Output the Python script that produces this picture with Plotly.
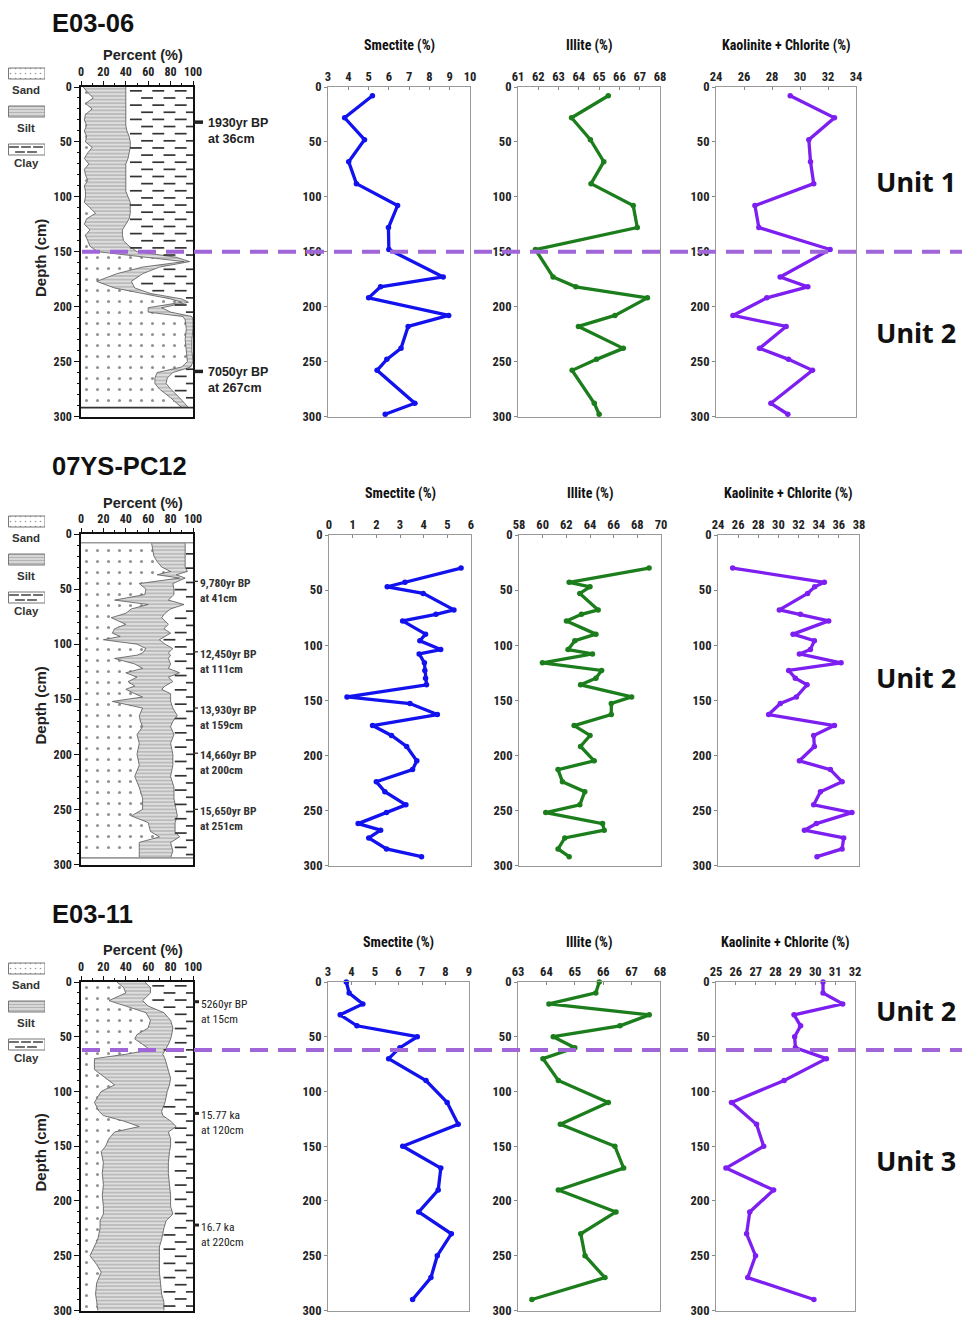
import numpy as np
import plotly.graph_objects as go

# page body has an 8px margin: figure is placed so that reference pixel (x, y)
# lands on figure pixel (x - 8, y - 8)
OFF = 8
W, H = 962, 1312

# ===================== DATA =====================
core_names = ["E03-06", "07YS-PC12", "E03-11"]

# ---- grain size (Percent %) : depth (cm), sand %, silt % (clay = rest) ----
gs_depth_e0306 = [0, 5, 10, 15, 20, 25, 30, 35, 40, 45, 50, 55, 60, 65, 70, 75, 80, 85, 90, 95,
                  100, 105, 110, 115, 120, 125, 130, 135, 140, 145, 150, 155, 159, 164, 170, 177,
                  183, 188, 193, 196, 201, 205, 209, 212, 220, 230, 240, 250, 255, 260, 265, 270,
                  275, 283, 292]
gs_sand_e0306 = [2, 6, 11, 4, 10, 4, 3, 5, 3, 5, 4, 10, 6, 3, 7, 3, 4, 6, 3, 4,
                 4, 3, 8, 13, 5, 3, 8, 4, 6, 8, 15, 60, 92, 55, 32, 14,
                 30, 55, 80, 90, 60, 60, 91, 93, 94, 93, 94, 95, 90, 68, 66, 66,
                 70, 80, 90]
gs_silt_e0306 = [38, 34, 29, 36, 30, 36, 37, 35, 38, 38, 40, 34, 37, 39, 33, 37, 36, 34, 37, 36,
                 38, 41, 36, 31, 38, 37, 29, 33, 32, 35, 35, 25, 5, 15, 23, 31,
                 18, 7, 10, 6, 12, 20, 8, 7, 6, 6, 5, 5, 8, 14, 11, 10,
                 10, 8, 6]

gs_depth_pc12 = [8, 15, 20, 25, 30, 34, 37, 40, 45, 50, 55, 60, 64, 68, 72, 76, 82, 86, 90, 93,
                 96, 100, 104, 108, 110, 113, 118, 122, 126, 130, 134, 138, 141, 145, 148, 152,
                 158, 165, 170, 175, 182, 190, 200, 210, 220, 230, 240, 250, 256, 262, 270, 275,
                 280, 288, 294]
gs_sand_pc12 = [63, 64, 65, 68, 72, 80, 68, 88, 52, 58, 57, 30, 60, 45, 40, 27, 40, 30, 28, 35,
                20, 50, 58, 55, 50, 30, 48, 55, 40, 50, 42, 48, 40, 48, 55, 28,
                55, 52, 53, 55, 50, 52, 50, 52, 48, 52, 55, 55, 45, 60, 62, 70,
                52, 52, 52]
gs_silt_pc12 = [30, 29, 28, 25, 21, 15, 17, 5, 30, 25, 26, 48, 32, 35, 35, 45, 38, 44, 52, 40,
                50, 25, 24, 23, 30, 48, 32, 23, 48, 28, 40, 27, 32, 32, 25, 52,
                27, 34, 29, 25, 33, 28, 32, 30, 32, 31, 28, 30, 41, 24, 22, 18,
                28, 30, 28]

gs_depth_e0311 = [0, 5, 10, 17, 22, 28, 35, 42, 48, 52, 57, 62, 66, 70, 80, 88, 94, 100, 110, 118,
                  122, 127, 132, 137, 143, 150, 155, 165, 175, 185, 195, 205, 212, 218, 225, 235,
                  242, 250, 258, 265, 275, 285, 292, 300]
gs_sand_e0311 = [32, 38, 40, 25, 40, 58, 62, 60, 50, 48, 55, 62, 40, 12, 12, 22, 30, 18, 12, 16,
                 20, 38, 52, 30, 25, 22, 18, 20, 19, 20, 19, 20, 20, 17, 17, 15,
                 12, 8, 14, 18, 14, 13, 14, 15]
gs_silt_e0311 = [25, 24, 22, 30, 20, 16, 18, 22, 31, 32, 23, 13, 33, 63, 66, 58, 49, 59, 63, 56,
                 53, 42, 33, 48, 55, 58, 61, 58, 59, 59, 61, 60, 62, 59, 57, 57,
                 58, 62, 56, 52, 57, 59, 60, 59]

# ---- clay minerals (%) ----
min_depth_e0306 = [8, 28, 48, 68, 88, 108, 128, 148, 173, 182, 192, 208, 218, 238, 248, 258, 288, 298]
smectite_e0306 = [5.19, 3.82, 4.80, 4.02, 4.40, 6.43, 5.98, 6.00, 8.68, 5.59, 5.00, 8.95, 6.95, 6.60,
                  5.90, 5.42, 7.28, 5.82]
illite_e0306 = [65.45, 63.64, 64.57, 65.23, 64.60, 66.68, 66.88, 61.86, 62.73, 63.85, 67.38, 65.78,
                63.98, 66.19, 64.87, 63.67, 64.76, 65.00]
kaolchl_e0306 = [29.30, 32.46, 30.63, 30.75, 30.98, 26.78, 27.06, 32.15, 28.58, 30.56, 27.63, 25.21,
                 29.01, 27.11, 29.18, 30.89, 27.92, 29.13]

min_depth_pc12 = [30, 43, 47, 53, 68, 72, 78, 90, 96, 104, 108, 116, 123, 130, 136, 147, 153, 163,
                  173, 182, 192, 205, 213, 224, 233, 245, 252, 262, 268, 275, 285, 292]
smectite_pc12 = [5.58, 3.21, 2.46, 3.98, 5.28, 4.52, 3.11, 4.08, 3.84, 4.72, 3.81, 4.03, 4.05, 4.08,
                 4.12, 0.76, 3.42, 4.58, 1.84, 2.64, 3.28, 3.71, 3.53, 2.00, 2.36, 3.25, 2.43, 1.23,
                 2.18, 1.68, 2.43, 3.91]
illite_pc12 = [68.99, 62.24, 64.00, 63.14, 64.69, 63.28, 62.01, 64.50, 62.72, 62.15, 64.21, 59.98,
               64.98, 64.50, 63.20, 67.52, 65.80, 65.80, 62.66, 64.00, 63.20, 64.35, 61.30, 61.67,
               63.56, 63.14, 60.26, 65.06, 65.20, 61.87, 61.30, 62.24]
kaolchl_pc12 = [25.46, 34.56, 33.60, 32.90, 30.09, 32.18, 34.99, 31.45, 33.57, 33.17, 32.08, 36.22,
                31.02, 31.68, 32.84, 31.78, 30.19, 29.03, 35.56, 33.50, 33.57, 32.08, 35.16, 36.32,
                34.17, 33.50, 37.30, 33.77, 32.58, 36.48, 36.32, 33.83]

min_depth_e0311 = [0, 10, 20, 30, 40, 50, 60, 70, 90, 110, 130, 150, 170, 190, 210, 230, 250, 270, 290]
smectite_e0311 = [3.78, 3.90, 4.48, 3.52, 4.23, 6.80, 6.06, 5.58, 7.17, 8.07, 8.54, 6.18, 7.80, 7.69,
                  6.86, 8.25, 7.65, 7.38, 6.60]
illite_e0311 = [65.86, 65.74, 64.09, 67.62, 66.59, 64.24, 65.00, 63.88, 64.42, 66.18, 64.49, 66.41,
                66.72, 64.42, 66.45, 65.21, 65.36, 66.06, 63.49]
kaolchl_e0311 = [30.39, 30.39, 31.38, 28.93, 29.26, 28.96, 29.00, 30.56, 28.43, 25.78, 27.04, 27.40,
                 25.50, 27.90, 26.70, 26.54, 26.99, 26.60, 29.93]

mineral_names = ["Smectite (%)", "Illite (%)", "Kaolinite + Chlorite (%)"]
mineral_colors = ["#1212ee", "#1b7d1b", "#7c1ff0"]
legend_labels = ["Sand", "Silt", "Clay"]

# age control points: label, plotted depth
ages_e0306 = ["1930yr BP<br>at 36cm", "7050yr BP<br>at 267cm"]
age_depth_e0306 = [32, 259]
ages_pc12 = ["9,780yr BP<br>at 41cm", "12,450yr BP<br>at 111cm", "13,930yr BP<br>at 159cm",
             "14,660yr BP<br>at 200cm", "15,650yr BP<br>at 251cm"]
age_depth_pc12 = [43, 107, 158, 199, 250]
ages_e0311 = ["5260yr BP<br>at 15cm", "15.77 ka<br>at 120cm", "16.7 ka<br>at 220cm"]
age_depth_e0311 = [18, 120, 222]

# unit boundaries / labels
unit_boundary = [150, None, 62]
unit_labels = [["Unit 1", "Unit 2"], ["Unit 2"], ["Unit 2", "Unit 3"]]

# ===================== STYLE / LAYOUT =====================
NARROW = "Roboto Condensed, Open Sans Condensed, DejaVu Sans Condensed, sans-serif"
BOLD = "Noto Sans, Open Sans, Arial, sans-serif"
ARIAL = "Liberation Sans, Arial, sans-serif"

rows = [
    dict(off=0, gs=(gs_depth_e0306, gs_sand_e0306, gs_silt_e0306),
         mins=(min_depth_e0306, smectite_e0306, illite_e0306, kaolchl_e0306),
         ranges=[[3, 10], [61, 68], [24, 34]], dticks=[1, 1, 2],
         pct_y=(87, 417), min_y=(87, 417), min_x=[(328, 470), (518, 660), (716, 856)],
         core=(0, 292), ages=(ages_e0306, age_depth_e0306),
         unit_y=[182, 332], title_y=23, mt_y=45, pt_y=55, age_style="big"),
    dict(off=448, gs=(gs_depth_pc12, gs_sand_pc12, gs_silt_pc12),
         mins=(min_depth_pc12, smectite_pc12, illite_pc12, kaolchl_pc12),
         ranges=[[0, 6], [58, 70], [24, 38]], dticks=[1, 2, 2],
         pct_y=(534, 865), min_y=(535, 866), min_x=[(329, 471), (519, 661), (718, 859)],
         core=(8, 294), ages=(ages_pc12, age_depth_pc12),
         unit_y=[677], title_y=466, mt_y=494, pt_y=503, age_style="thin"),
    dict(off=895, gs=(gs_depth_e0311, gs_sand_e0311, gs_silt_e0311),
         mins=(min_depth_e0311, smectite_e0311, illite_e0311, kaolchl_e0311),
         ranges=[[3, 9], [63, 68], [25, 32]], dticks=[1, 1, 1],
         pct_y=(982, 1311), min_y=(982, 1311), min_x=[(328, 469), (518, 660), (716, 855)],
         core=(0, 300), ages=(ages_e0311, age_depth_e0311),
         unit_y=[1010, 1160], title_y=914, mt_y=942, pt_y=950, age_style="small"),
]


def PX(x):
    return (x - OFF) / W


def PY(y):
    return 1 - (y - OFF) / H


fig = go.Figure()
layout_axes = {}
annotations = []
shapes = []
axis_counter = [0]


def new_axes(xpx, ypx, xr, yr, xkw, ykw):
    axis_counter[0] += 1
    n = axis_counter[0]
    sx = "" if n == 1 else str(n)
    layout_axes["xaxis" + sx] = dict(domain=[max(PX(xpx[0]), 0), PX(xpx[1])], range=xr,
                                     anchor="y" + sx, automargin=False, **xkw)
    layout_axes["yaxis" + sx] = dict(domain=[PY(ypx[1]), PY(ypx[0])], range=yr,
                                     anchor="x" + sx, automargin=False, **ykw)
    return "x" + sx, "y" + sx


def ann(xpx, ypx, text, size, family=BOLD, xanchor="center", yanchor="middle",
        color="#111", angle=0):
    annotations.append(dict(x=PX(xpx), y=PY(ypx), xref="paper", yref="paper",
                            text=text, showarrow=False, xanchor=xanchor, yanchor=yanchor,
                            textangle=angle, borderpad=0,
                            font=dict(family=family, size=size, color=color)))


tickfont = dict(family=NARROW, size=12.5, color="#222", weight="bold")
pct_tickfont = dict(family=NARROW, size=12, color="#222", weight="bold")
depth_ticks = [0, 50, 100, 150, 200, 250, 300]

for ri, r in enumerate(rows):
    off = r["off"]
    depth, sand, silt = r["gs"]
    depth = np.array(depth, float)
    sand = np.array(sand, float)
    cum = sand + np.array(silt, float)

    # ---------------- grain size panel ----------------
    xa, ya = new_axes(
        (81, 193), r["pct_y"], [0, 100], [300.5, 0],
        dict(side="top", tickvals=[0, 20, 40, 60, 80, 100], ticks="outside", ticklen=4,
             tickcolor="#111", tickwidth=1.2, minor=dict(dtick=10, ticks="outside", ticklen=2.5,
                                                         tickcolor="#111"),
             showline=True, linecolor="#111", linewidth=1.6, mirror=True, showgrid=False,
             zeroline=False, tickfont=pct_tickfont),
        dict(tickvals=depth_ticks, ticks="outside", ticklen=5,
             tickcolor="#111", tickwidth=1.2, minor=dict(dtick=10, ticks="outside", ticklen=2.5,
                                                         tickcolor="#111"),
             showline=True, linecolor="#111", linewidth=1.6, mirror=True, showgrid=False,
             zeroline=False, tickfont=pct_tickfont))

    fig.add_trace(go.Scatter(
        x=sand, y=depth, mode="lines", line=dict(color="#555", width=0.8),
        fill="tozerox", fillpattern=dict(shape=".", size=11, solidity=0.06,
                                         fgcolor="#222", bgcolor="white"),
        xaxis=xa, yaxis=ya, hoverinfo="skip", showlegend=False))
    fig.add_trace(go.Scatter(
        x=cum, y=depth, mode="lines", line=dict(color="#555", width=0.8),
        fill="tonextx", fillpattern=dict(shape="-", size=3.6, solidity=0.42,
                                         fgcolor="#8a8a8a", bgcolor="#dedede"),
        xaxis=xa, yaxis=ya, hoverinfo="skip", showlegend=False))

    # clay dash symbols placed in the clay field (right of sand+silt)
    dx, dy = [], []
    d = r["core"][0] + 3.5
    k = 0
    while d < r["core"][1] - 1:
        c = np.interp(d, depth, cum)
        start = 9 if k % 2 == 0 else 19
        for xc in range(start, 101, 20):
            if xc - 3.6 > c:
                dx.append(xc)
                dy.append(d)
        k += 1
        d += 6.5
    fig.add_trace(go.Scatter(
        x=dx, y=dy, mode="markers",
        marker=dict(symbol="line-ew", size=8.5, line=dict(color="#333", width=1.7)),
        xaxis=xa, yaxis=ya, hoverinfo="skip", showlegend=False, cliponaxis=True))

    # core top / bottom lines
    for cd in r["core"]:
        if 0 < cd < 300:
            shapes.append(dict(type="line", xref=xa, yref=ya, x0=0, x1=100, y0=cd, y1=cd,
                               line=dict(color="#333" if off == 0 else "#999", width=1.6)))

    # age control markers
    labels, adepths = r["ages"]
    for lab, ad in zip(labels, adepths):
        if r["age_style"] == "big":
            shapes.append(dict(type="line", xref="paper", yref=ya, x0=PX(193), x1=PX(203),
                               y0=ad, y1=ad, line=dict(color="#222", width=3.5)))
            annotations.append(dict(x=PX(206), y=ad, xref="paper", yref=ya, text="<b>" + lab + "</b>",
                                    showarrow=False, xanchor="left", yanchor="top", yshift=8,
                                    align="left",
                                    font=dict(family=ARIAL, size=12.5, color="#222")))
        elif r["age_style"] == "thin":
            shapes.append(dict(type="line", xref="paper", yref=ya, x0=PX(193), x1=PX(198),
                               y0=ad, y1=ad, line=dict(color="#333", width=1.3)))
            annotations.append(dict(x=PX(198), y=ad, xref="paper", yref=ya, text="<b>" + lab + "</b>",
                                    showarrow=False, xanchor="left", yanchor="top", yshift=7,
                                    align="left",
                                    font=dict(family=NARROW, size=11.5, color="#333")))
        else:
            shapes.append(dict(type="line", xref="paper", yref=ya, x0=PX(193), x1=PX(199),
                               y0=ad, y1=ad, line=dict(color="#222", width=3)))
            annotations.append(dict(x=PX(199), y=ad, xref="paper", yref=ya, text=lab,
                                    showarrow=False, xanchor="left", yanchor="top", yshift=7,
                                    align="left",
                                    font=dict(family=NARROW, size=11.5, color="#222")))

    pct_ya = ya

    # ---------------- mineral panels ----------------
    mdepth = r["mins"][0]
    for i in range(3):
        vals = r["mins"][i + 1]
        xr = r["ranges"][i]
        xa, ya = new_axes(
            r["min_x"][i], r["min_y"], xr, [300.5, 0],
            dict(side="top", dtick=r["dticks"][i], tick0=xr[0], ticks="inside", ticklen=3,
                 tickcolor="#888", showline=True, linecolor="#999", linewidth=1, mirror=True,
                 showgrid=False, zeroline=False, tickfont=tickfont),
            dict(tickvals=depth_ticks, ticks="outside", ticklen=3,
                 tickcolor="#888", showline=True, linecolor="#999", linewidth=1, mirror=True,
                 showgrid=False, zeroline=False, tickfont=tickfont))
        fig.add_trace(go.Scatter(
            x=vals, y=mdepth, mode="lines+markers",
            line=dict(color=mineral_colors[i], width=3.3),
            marker=dict(color=mineral_colors[i], size=5.5),
            xaxis=xa, yaxis=ya, showlegend=False, cliponaxis=False))
        cx = (r["min_x"][i][0] + r["min_x"][i][1]) / 2
        ann(cx, r["mt_y"], "<b>" + mineral_names[i] + "</b>", 14, family=NARROW)

    # ---------------- legend swatches ----------------
    lxa, lya = new_axes((8, 45), (66 + off, 157 + off), [0, 37], [91, 0],
                        dict(visible=False), dict(visible=False))
    fig.add_trace(go.Scatter(
        x=[0.5, 37, 37, 0.5, 0.5], y=[2, 2, 13, 13, 2], mode="lines", fill="toself",
        line=dict(color="#777", width=1),
        fillpattern=dict(shape=".", size=5, solidity=0.08, fgcolor="#333", bgcolor="white"),
        xaxis=lxa, yaxis=lya, hoverinfo="skip", showlegend=False))
    fig.add_trace(go.Scatter(
        x=[0.5, 37, 37, 0.5, 0.5], y=[40, 40, 51, 51, 40], mode="lines", fill="toself",
        line=dict(color="#777", width=1),
        fillpattern=dict(shape="-", size=3, solidity=0.45, fgcolor="#8a8a8a", bgcolor="#dedede"),
        xaxis=lxa, yaxis=lya, hoverinfo="skip", showlegend=False))
    fig.add_trace(go.Scatter(
        x=[0.5, 37, 37, 0.5, 0.5], y=[78, 78, 89, 89, 78], mode="lines", fill="toself",
        line=dict(color="#777", width=1), fillcolor="white",
        xaxis=lxa, yaxis=lya, hoverinfo="skip", showlegend=False))
    fig.add_trace(go.Scatter(
        x=[6, 18, 30, 12, 24], y=[81, 81, 81, 86, 86], mode="markers",
        marker=dict(symbol="line-ew", size=7, line=dict(color="#333", width=1.4)),
        xaxis=lxa, yaxis=lya, hoverinfo="skip", showlegend=False))
    for lab, ly in zip(legend_labels, [90, 128, 163]):
        ann(26, ly + off, "<b>" + lab + "</b>", 11.5, family=ARIAL, color="#333")

    # ---------------- titles & labels ----------------
    ann(51, r["title_y"], "<b>" + core_names[ri] + "</b>", 25.5, family=ARIAL, xanchor="left")
    ann(143, r["pt_y"], "<b>Percent (%)</b>", 14.5, family=ARIAL, color="#222")
    ann(40, (r["pct_y"][0] + r["pct_y"][1]) / 2 + 6, "<b>Depth (cm)</b>", 15, family=ARIAL,
        color="#222", angle=-90)

    for ul, uy in zip(unit_labels[ri], r["unit_y"]):
        ann(916, uy, "<b>" + ul + "</b>", 27, family=BOLD)

    if unit_boundary[ri] is not None:
        shapes.append(dict(type="line", xref="paper", yref=pct_ya, x0=PX(82), x1=1.0,
                           y0=unit_boundary[ri], y1=unit_boundary[ri],
                           line=dict(color="#a066d8", width=4, dash="18px,10px"), layer="above"))

fig.update_layout(width=W, height=H, margin=dict(l=0, r=0, t=0, b=0, autoexpand=False),
                  paper_bgcolor="white", plot_bgcolor="white", showlegend=False,
                  annotations=annotations, shapes=shapes, **layout_axes)

fig.write_html("out.html")
